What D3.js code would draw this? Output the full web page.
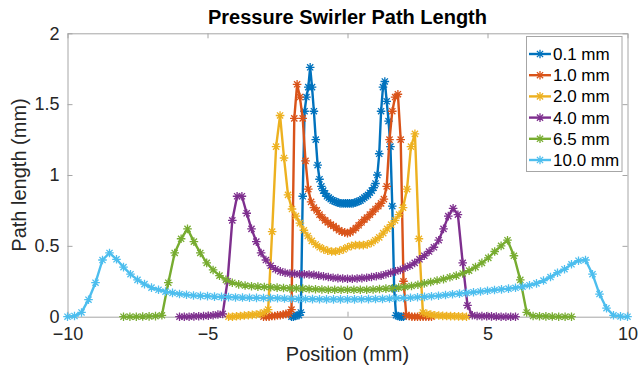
<!DOCTYPE html>
<html><head><meta charset="utf-8">
<script src="https://cdn.jsdelivr.net/npm/d3@7"></script>
<style>body{margin:0;background:#fff}svg{display:block}text{font-family:"Liberation Sans",Arial,sans-serif}</style>
</head><body>
<script>
const seriesNames = ["0.1 mm","1.0 mm","2.0 mm","4.0 mm","6.5 mm","10.0 mm"];
const seriesColors = ["#0072BD","#D95319","#EDB120","#7E2F8E","#77AC30","#4DBEEE"];
const xStart = [-2, -3, -4.25, -6, -8, -10];
const xEnd   = [ 2,  3,  4.25,  6,  8,  10];
const xTicks = [-10,-5,0,5,10];
const yTicks = [0,0.5,1,1.5,2];

const y01 = [0,0,0.005,0.01,0.01,0.03,0.85,1.45,1.55,1.62,1.76,1.62,1.45,1.25,1.07,0.97,0.92,0.89,0.87,0.85,0.84,0.83,0.82,0.815,0.81,0.805,0.80,0.80,0.80,0.80,0.80,0.80,0.80,0.80,0.805,0.81,0.815,0.82,0.83,0.84,0.85,0.86,0.875,0.89,0.91,0.94,1.0,1.15,1.45,1.62,1.66,1.52,1.38,1.2,0.78,0.2,0.01,0.005,0,0,0];
const y10 = [0,0,0,0.005,0.005,0.01,0.01,0.015,0.02,0.02,0.05,1.40,1.64,1.55,1.40,1.10,0.90,0.81,0.77,0.75,0.72,0.70,0.68,0.665,0.65,0.64,0.625,0.61,0.60,0.595,0.59,0.595,0.61,0.625,0.645,0.665,0.685,0.70,0.72,0.74,0.76,0.78,0.80,0.83,0.92,1.25,1.45,1.55,1.57,1.25,0.25,0.01,0.005,0,0,0,0,0,0,0,0];
const y20 = [0,0,0.003,0.005,0.008,0.01,0.013,0.016,0.02,0.03,0.05,0.6,1.2,1.42,1.12,0.86,0.76,0.71,0.66,0.61,0.57,0.535,0.51,0.49,0.475,0.465,0.46,0.46,0.465,0.475,0.49,0.50,0.505,0.505,0.505,0.51,0.52,0.54,0.56,0.59,0.62,0.65,0.68,0.72,0.77,0.9,1.2,1.29,0.55,0.03,0.02,0.015,0.01,0.008,0.006,0.005,0.004,0.003,0.002,0.001,0];
const y40 = [0,0,0,0.002,0.003,0.005,0.007,0.01,0.015,0.02,0.25,0.68,0.85,0.85,0.73,0.62,0.53,0.45,0.40,0.36,0.335,0.32,0.31,0.305,0.303,0.30,0.30,0.298,0.295,0.29,0.285,0.28,0.275,0.272,0.27,0.268,0.268,0.27,0.272,0.275,0.28,0.285,0.29,0.30,0.31,0.32,0.33,0.345,0.36,0.38,0.405,0.43,0.46,0.49,0.54,0.62,0.71,0.765,0.72,0.38,0.08,0.01,0.005,0.004,0.003,0.002,0.001,0,0,0,0];
const y65 = [0,0,0,0.001,0.002,0.004,0.01,0.24,0.45,0.55,0.62,0.53,0.45,0.38,0.33,0.29,0.26,0.24,0.228,0.22,0.215,0.212,0.21,0.208,0.205,0.203,0.20,0.20,0.198,0.196,0.194,0.192,0.19,0.19,0.19,0.19,0.19,0.19,0.19,0.192,0.195,0.198,0.20,0.205,0.21,0.217,0.225,0.235,0.245,0.255,0.265,0.278,0.29,0.305,0.325,0.35,0.38,0.415,0.46,0.50,0.54,0.43,0.26,0.03,0.005,0.003,0.002,0.001,0,0,0];
const y100 = [0,0.005,0.03,0.12,0.24,0.40,0.45,0.405,0.35,0.30,0.26,0.23,0.205,0.19,0.177,0.168,0.16,0.155,0.15,0.147,0.145,0.142,0.14,0.138,0.136,0.135,0.134,0.133,0.132,0.131,0.13,0.128,0.127,0.126,0.125,0.124,0.123,0.122,0.122,0.122,0.122,0.122,0.123,0.124,0.125,0.126,0.128,0.13,0.132,0.134,0.137,0.14,0.144,0.148,0.153,0.158,0.163,0.168,0.173,0.178,0.183,0.188,0.193,0.198,0.204,0.212,0.222,0.235,0.255,0.28,0.31,0.335,0.37,0.395,0.40,0.30,0.16,0.06,0.01,0.002,0];
const seriesValues = [y01,y10,y20,y40,y65,y100];

const W = 638, H = 377;
const m = {left:67.5, right:10.5, top:33.3, bottom:60.3};
const svg = d3.select("body").append("svg").attr("width",W).attr("height",H);
const x = d3.scaleLinear().domain([-10,10]).range([m.left, W-m.right]);
const y = d3.scaleLinear().domain([0,2]).range([H-m.bottom, m.top]);

const axisColor = "#a6a6a6", textColor = "#262626";
const g = svg.append("g");

const bottomAxis = g.append("g").attr("transform",`translate(0,${y(0)})`)
  .call(d3.axisBottom(x).tickValues(xTicks).tickSizeInner(-5).tickSizeOuter(0).tickPadding(11).tickFormat(d3.format("d")));
const topAxis = g.append("g").attr("transform",`translate(0,${y(2)})`)
  .call(d3.axisTop(x).tickValues(xTicks).tickSizeInner(-5).tickSizeOuter(0).tickFormat(""));
const leftAxis = g.append("g").attr("transform",`translate(${x(-10)},0)`)
  .call(d3.axisLeft(y).tickValues(yTicks).tickSizeInner(-5).tickSizeOuter(0).tickPadding(8).tickFormat(d => d3.format("")(d)));
const rightAxis = g.append("g").attr("transform",`translate(${x(10)},0)`)
  .call(d3.axisRight(y).tickValues(yTicks).tickSizeInner(-5).tickSizeOuter(0).tickFormat(""));
[bottomAxis, topAxis, leftAxis, rightAxis].forEach(a => {
  a.select(".domain").attr("stroke", axisColor).attr("stroke-width",1);
  a.selectAll(".tick line").attr("stroke", axisColor);
  a.selectAll(".tick text").attr("fill", textColor).style("font-size","18px").style("font-family",'"Liberation Sans",Arial,sans-serif');
});
bottomAxis.selectAll(".tick text").attr("dy","0.71em");

svg.append("text").attr("x", (x(-10)+x(10))/2).attr("y", 24).attr("text-anchor","middle")
  .style("font-size","20px").style("font-weight","bold").attr("fill","#000").text("Pressure Swirler Path Length");
svg.append("text").attr("x", (x(-10)+x(10))/2).attr("y", 361).attr("text-anchor","middle")
  .style("font-size","20px").attr("fill",textColor).text("Position (mm)");
svg.append("text").attr("transform",`translate(26,${(y(0)+y(2))/2}) rotate(-90)`).attr("text-anchor","middle")
  .style("font-size","20px").attr("fill",textColor).text("Path length (mm)");

const s = 4.3, d = s*0.72;
const starPath = `M${-s},0H${s}M0,${-s}V${s}M${-d},${-d}L${d},${d}M${-d},${d}L${d},${-d}`;

const line = d3.line().x(p => x(p[0])).y(p => y(p[1]));
seriesValues.forEach((vals, k) => {
  const n = vals.length;
  const xs = d3.scaleLinear().domain([0, n-1]).range([xStart[k], xEnd[k]]);
  const pts = vals.map((v,i) => [xs(i), v]);
  const sg = g.append("g");
  sg.append("path").datum(pts).attr("d", line).attr("fill","none")
    .attr("stroke", seriesColors[k]).attr("stroke-width", 2.4).attr("stroke-linejoin","round");
  sg.selectAll("path.mk").data(pts).join("path").attr("class","mk")
    .attr("transform", p => `translate(${x(p[0])},${y(p[1])})`)
    .attr("d", starPath).attr("fill","none").attr("stroke", seriesColors[k]).attr("stroke-width",1.3);
});

const lg = svg.append("g");
const lx = 526.5, ly = 36.5, lw = 95.5, lh = 135;
lg.append("rect").attr("x",lx).attr("y",ly).attr("width",lw).attr("height",lh)
  .attr("fill","#fff").attr("stroke","#a6a6a6").attr("stroke-width",1);
seriesNames.forEach((name,k) => {
  const cy = 54 + k*21.2;
  lg.append("line").attr("x1",529).attr("x2",551).attr("y1",cy).attr("y2",cy)
    .attr("stroke",seriesColors[k]).attr("stroke-width",2.4);
  lg.append("path").attr("transform",`translate(540,${cy})`).attr("d",starPath)
    .attr("fill","none").attr("stroke",seriesColors[k]).attr("stroke-width",1.3);
  lg.append("text").attr("x",553).attr("y",cy).attr("dy","0.35em").style("font-size","17px")
    .attr("fill","#000").text(name);
});
</script>
</body></html>
